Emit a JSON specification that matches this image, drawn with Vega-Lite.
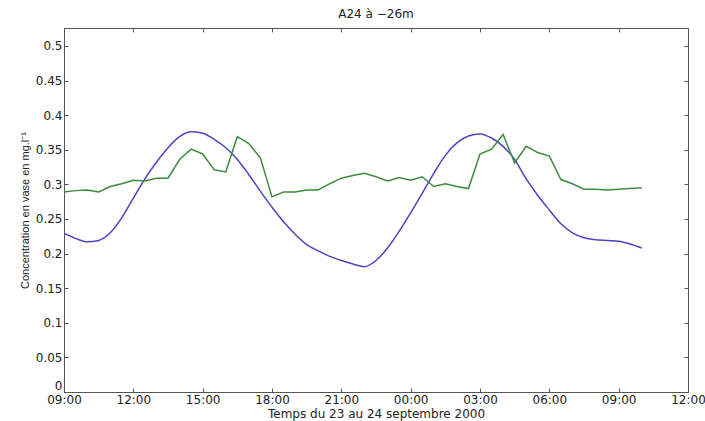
{
  "$schema": "https://vega.github.io/schema/vega-lite/v6.json",
  "width": 624,
  "height": 364,
  "autosize": {"type": "none"},
  "padding": {"left": 64, "top": 28, "right": 17, "bottom": 29},
  "background": "white",
  "title": {"text": "A24 à −26m", "fontSize": 12, "font": "DejaVu Sans", "fontWeight": "normal", "color": "#222", "offset": 7},
  "config": {
    "view": {"stroke": "#555", "strokeWidth": 1},
    "axis": {"domainColor": "#555", "tickColor": "#555", "labelColor": "#222", "labelFont": "DejaVu Sans", "labelFontSize": 12, "titleFont": "DejaVu Sans", "titleFontSize": 12, "titleFontWeight": "normal", "titleColor": "#222", "grid": false, "tickSize": -4, "labelFlush": false, "labelOverlap": false}
  },
  "datasets": {
    "d": [
      {"i":0,"t":"2000-09-23T09:00","b":0.229,"g":0.289},
      {"i":1,"t":"2000-09-23T09:30","b":0.222,"g":0.291},
      {"i":2,"t":"2000-09-23T10:00","b":0.217,"g":0.292},
      {"i":3,"t":"2000-09-23T10:30","b":0.219,"g":0.289},
      {"i":4,"t":"2000-09-23T11:00","b":0.230,"g":0.297},
      {"i":5,"t":"2000-09-23T11:30","b":0.252,"g":0.301},
      {"i":6,"t":"2000-09-23T12:00","b":0.280,"g":0.306},
      {"i":7,"t":"2000-09-23T12:30","b":0.308,"g":0.305},
      {"i":8,"t":"2000-09-23T13:00","b":0.332,"g":0.309},
      {"i":9,"t":"2000-09-23T13:30","b":0.353,"g":0.309},
      {"i":10,"t":"2000-09-23T14:00","b":0.369,"g":0.336},
      {"i":11,"t":"2000-09-23T14:30","b":0.376,"g":0.351},
      {"i":12,"t":"2000-09-23T15:00","b":0.374,"g":0.344},
      {"i":13,"t":"2000-09-23T15:30","b":0.365,"g":0.321},
      {"i":14,"t":"2000-09-23T16:00","b":0.353,"g":0.318},
      {"i":15,"t":"2000-09-23T16:30","b":0.336,"g":0.369},
      {"i":16,"t":"2000-09-23T17:00","b":0.314,"g":0.359},
      {"i":17,"t":"2000-09-23T17:30","b":0.290,"g":0.338},
      {"i":18,"t":"2000-09-23T18:00","b":0.267,"g":0.282},
      {"i":19,"t":"2000-09-23T18:30","b":0.246,"g":0.289},
      {"i":20,"t":"2000-09-23T19:00","b":0.228,"g":0.289},
      {"i":21,"t":"2000-09-23T19:30","b":0.213,"g":0.292},
      {"i":22,"t":"2000-09-23T20:00","b":0.204,"g":0.292},
      {"i":23,"t":"2000-09-23T20:30","b":0.196,"g":0.301},
      {"i":24,"t":"2000-09-23T21:00","b":0.190,"g":0.309},
      {"i":25,"t":"2000-09-23T21:30","b":0.185,"g":0.313},
      {"i":26,"t":"2000-09-23T22:00","b":0.181,"g":0.316},
      {"i":27,"t":"2000-09-23T22:30","b":0.190,"g":0.311},
      {"i":28,"t":"2000-09-23T23:00","b":0.208,"g":0.305},
      {"i":29,"t":"2000-09-23T23:30","b":0.232,"g":0.310},
      {"i":30,"t":"2000-09-24T00:00","b":0.259,"g":0.306},
      {"i":31,"t":"2000-09-24T00:30","b":0.287,"g":0.311},
      {"i":32,"t":"2000-09-24T01:00","b":0.316,"g":0.297},
      {"i":33,"t":"2000-09-24T01:30","b":0.342,"g":0.301},
      {"i":34,"t":"2000-09-24T02:00","b":0.360,"g":0.297},
      {"i":35,"t":"2000-09-24T02:30","b":0.370,"g":0.294},
      {"i":36,"t":"2000-09-24T03:00","b":0.373,"g":0.344},
      {"i":37,"t":"2000-09-24T03:30","b":0.367,"g":0.351},
      {"i":38,"t":"2000-09-24T04:00","b":0.355,"g":0.372},
      {"i":39,"t":"2000-09-24T04:30","b":0.336,"g":0.331},
      {"i":40,"t":"2000-09-24T05:00","b":0.308,"g":0.355},
      {"i":41,"t":"2000-09-24T05:30","b":0.284,"g":0.346},
      {"i":42,"t":"2000-09-24T06:00","b":0.263,"g":0.341},
      {"i":43,"t":"2000-09-24T06:30","b":0.243,"g":0.307},
      {"i":44,"t":"2000-09-24T07:00","b":0.230,"g":0.301},
      {"i":45,"t":"2000-09-24T07:30","b":0.223,"g":0.293},
      {"i":46,"t":"2000-09-24T08:00","b":0.220,"g":0.293},
      {"i":47,"t":"2000-09-24T08:30","b":0.219,"g":0.292},
      {"i":48,"t":"2000-09-24T09:00","b":0.218,"g":0.293},
      {"i":49,"t":"2000-09-24T09:30","b":0.214,"g":0.294},
      {"i":50,"t":"2000-09-24T10:00","b":0.208,"g":0.295}
    ]
  },
  "data": {"name": "d"},
  "layer": [
    {
      "mark": {"type": "line", "color": "#4b45c2", "strokeWidth": 1.5, "interpolate": "monotone", "clip": true},
      "encoding": {
        "x": {"field": "t", "type": "temporal",
          "scale": {"domain": [{"year":2000,"month":9,"date":23,"hours":9},{"year":2000,"month":9,"date":24,"hours":12}]},
          "axis": {"title": "Temps du 23 au 24 septembre 2000", "titlePadding": 3, "format": "%H:%M", "labelPadding": 6,
            "values": [{"year":2000,"month":9,"date":23,"hours":9},{"year":2000,"month":9,"date":23,"hours":12},{"year":2000,"month":9,"date":23,"hours":15},{"year":2000,"month":9,"date":23,"hours":18},{"year":2000,"month":9,"date":23,"hours":21},{"year":2000,"month":9,"date":24,"hours":0},{"year":2000,"month":9,"date":24,"hours":3},{"year":2000,"month":9,"date":24,"hours":6},{"year":2000,"month":9,"date":24,"hours":9},{"year":2000,"month":9,"date":24,"hours":12}]}},
        "y": {"field": "b", "type": "quantitative",
          "scale": {"domain": [0, 0.526], "nice": false},
          "axis": {"title": "Concentration en vase en mg.l⁻¹", "titleFont": "Liberation Sans", "titleFontSize": 11, "titlePadding": 5, "format": "~g", "labelPadding": 6,
            "labelBaseline": {"condition": {"test": "datum.value == 0", "value": "bottom"}, "value": "middle"},
            "values": [0,0.05,0.1,0.15,0.2,0.25,0.3,0.35,0.4,0.45,0.5]}}
      }
    },
    {
      "mark": {"type": "line", "color": "#3d8c3d", "strokeWidth": 1.5, "clip": true},
      "encoding": {
        "x": {"field": "t", "type": "temporal",
          "axis": {"orient": "top", "title": null, "labels": false, "domain": false,
            "values": [{"year":2000,"month":9,"date":23,"hours":9},{"year":2000,"month":9,"date":23,"hours":12},{"year":2000,"month":9,"date":23,"hours":15},{"year":2000,"month":9,"date":23,"hours":18},{"year":2000,"month":9,"date":23,"hours":21},{"year":2000,"month":9,"date":24,"hours":0},{"year":2000,"month":9,"date":24,"hours":3},{"year":2000,"month":9,"date":24,"hours":6},{"year":2000,"month":9,"date":24,"hours":9},{"year":2000,"month":9,"date":24,"hours":12}]}},
        "y": {"field": "g", "type": "quantitative",
          "axis": {"orient": "right", "title": null, "labels": false, "domain": false,
            "values": [0,0.05,0.1,0.15,0.2,0.25,0.3,0.35,0.4,0.45,0.5]}}
      }
    }
  ],
  "resolve": {"axis": {"x": "independent", "y": "independent"}}
}
